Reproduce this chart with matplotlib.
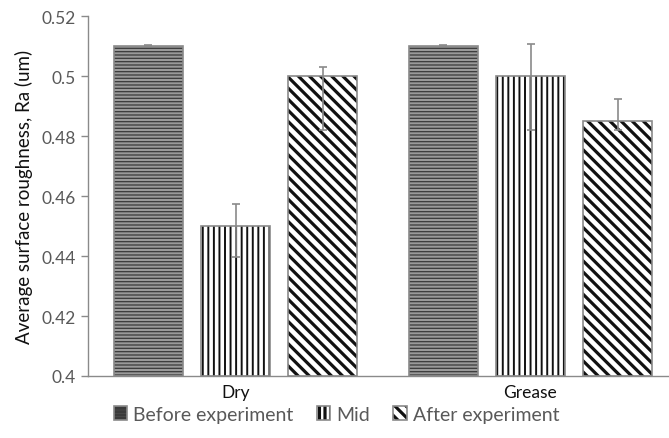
import matplotlib
matplotlib.use("Agg")
import matplotlib.pyplot as plt
from matplotlib.legend_handler import HandlerTuple
import numpy as np

plt.rcParams['font.family'] = ['Lato', 'DejaVu Sans']

categories = ["Dry", "Grease"]
series_names = ["Before experiment", "Mid", "After experiment"]
before = [0.51, 0.51]
mid = [0.45, 0.50]
after = [0.50, 0.485]
# asymmetric error bars (lower, upper)
before_err = [[0.0, 0.0], [0.0005, 0.0005]]
mid_err = [[0.0103, 0.018], [0.0073, 0.0107]]
after_err = [[0.018, 0.003], [0.003, 0.0073]]

values = [before, mid, after]
errors = [before_err, mid_err, after_err]
faces = ["#9a9a9a", "white", "white"]
hatch_colors = ["#3a3a3a", "#111111", "#111111"]
hatches = ["-----", "|||", "\\\\\\"]
hatch_lw = [0.9, 1.4, 2.3]

fig = plt.figure(figsize=(6.69, 4.39), dpi=100)
ax = fig.add_axes([88 / 669, 62 / 439, 590 / 669, 360 / 439])

x = np.arange(len(categories))
step = 0.295
width = 0.234
grey = "#8a8a8a"
handles = []
for i, (vals, errs) in enumerate(zip(values, errors)):
    plt.rcParams['hatch.linewidth'] = hatch_lw[i]
    pos = x + (i - 1) * step
    heights = np.array(vals) - 0.4
    # hatched fill (hatch takes the edge colour, so the outline is drawn separately)
    fill = ax.bar(pos, heights, width, bottom=0.4, facecolor=faces[i],
                  hatch=hatches[i], edgecolor=hatch_colors[i], linewidth=0)
    outline = ax.bar(pos, heights, width, bottom=0.4, facecolor="none",
                     edgecolor=grey, linewidth=1.2)
    handles.append((fill, outline))
    ax.errorbar(pos, vals, yerr=errs, fmt='none', ecolor=grey, elinewidth=1.2,
                capsize=3, capthick=1.2, zorder=3)

ax.set_xlim(-0.5, 1.5)
ax.set_ylim(0.4, 0.52)
ax.set_yticks([0.4, 0.42, 0.44, 0.46, 0.48, 0.5, 0.52])
ax.set_yticklabels(["0.4", "0.42", "0.44", "0.46", "0.48", "0.5", "0.52"])
ax.set_xticks(x)
ax.set_xticklabels(categories, fontsize=12.5, color="#111111")
ax.tick_params(axis='x', length=0, pad=6)
ax.tick_params(axis='y', length=5, width=1, color=grey, labelcolor="#595959",
               labelsize=12.5, pad=4)
for s in ["top", "right"]:
    ax.spines[s].set_visible(False)
for s in ["left", "bottom"]:
    ax.spines[s].set_color(grey)
    ax.spines[s].set_linewidth(1.0)

ax.set_ylabel("Average surface roughness, Ra (um)", fontsize=13.5, color="#111111",
              labelpad=6)

leg = fig.legend(handles=handles, labels=series_names, loc="lower center",
                 bbox_to_anchor=(0.503, -0.005), ncol=3, frameon=False,
                 fontsize=14, handlelength=0.7, handleheight=0.7,
                 handletextpad=0.3, columnspacing=1.2,
                 handler_map={tuple: HandlerTuple(ndivide=1, pad=0)})
for t in leg.get_texts():
    t.set_color("#595959")

fig.savefig("out.png", dpi=100)
